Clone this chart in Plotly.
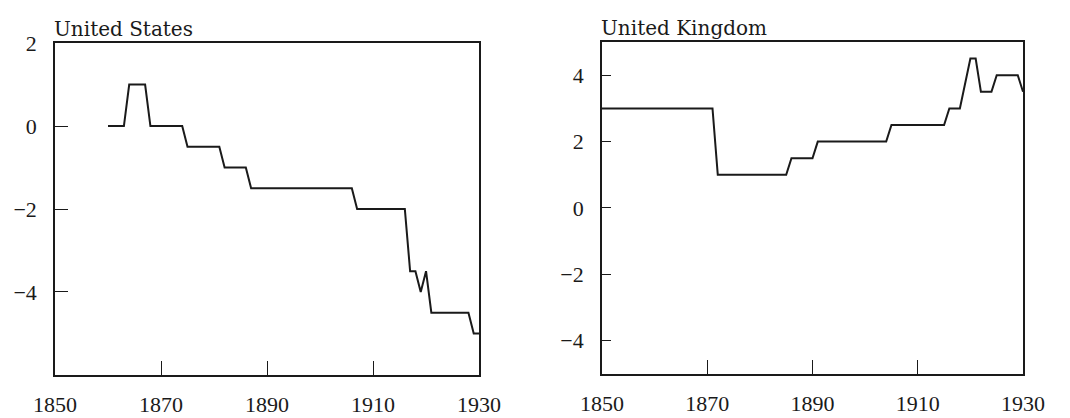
import plotly.graph_objects as go

# United States series (year, value)
us_years = [1860, 1863, 1864, 1867, 1868, 1874, 1875, 1881, 1882, 1886, 1887,
            1906, 1907, 1916, 1917, 1918, 1919, 1920, 1921, 1928, 1929, 1930]
us_values = [0, 0, 1, 1, 0, 0, -0.5, -0.5, -1, -1, -1.5,
             -1.5, -2, -2, -3.5, -3.5, -4, -3.5, -4.5, -4.5, -5, -5]

# United Kingdom series (year, value)
uk_years = [1850, 1871, 1872, 1885, 1886, 1890, 1891, 1904, 1905, 1915, 1916,
            1918, 1920, 1921, 1922, 1924, 1925, 1929, 1930]
uk_values = [3, 3, 1, 1, 1.5, 1.5, 2, 2, 2.5, 2.5, 3,
             3, 4.5, 4.5, 3.5, 3.5, 4, 4, 3.5]

x_ticks = [1850, 1870, 1890, 1910, 1930]
us_y_ticks = [-4, -2, 0, 2]
uk_y_ticks = [-4, -2, 0, 2, 4]

TICK_FONT = "Liberation Serif"
TITLE_FONT = "DejaVu Serif"
INK = "#1a1a1a"

fig = go.Figure()
fig.add_trace(go.Scatter(x=us_years, y=us_values, mode="lines",
                         line=dict(color=INK, width=2), xaxis="x", yaxis="y",
                         showlegend=False, hoverinfo="skip"))
fig.add_trace(go.Scatter(x=uk_years, y=uk_values, mode="lines",
                         line=dict(color=INK, width=2), xaxis="x2", yaxis="y2",
                         showlegend=False, hoverinfo="skip"))

axis_common = dict(
    showline=True, mirror=True, linecolor=INK, linewidth=1.6,
    showgrid=False, zeroline=False, automargin=False,
    ticks="inside", tickcolor=INK, tickwidth=1.4,
    tickfont=dict(family=TICK_FONT, size=22, color=INK),
)

fig.update_layout(
    width=1070, height=418,
    margin=dict(l=0, r=0, t=0, b=0),
    paper_bgcolor="white", plot_bgcolor="white",
    xaxis=dict(domain=[0.0514, 0.4477], range=[1850, 1930], tickvals=x_ticks,
               ticklen=14, ticklabelstandoff=9, anchor="y", **axis_common),
    yaxis=dict(domain=[0.1029, 0.8971], range=[-6, 2], tickvals=us_y_ticks,
               ticklen=13, ticklabelstandoff=12, anchor="x", **axis_common),
    xaxis2=dict(domain=[0.5626, 0.9561], range=[1850, 1930], tickvals=x_ticks,
                ticklen=14, ticklabelstandoff=9, anchor="y2", **axis_common),
    yaxis2=dict(domain=[0.1053, 0.8995], range=[-5, 5], tickvals=uk_y_ticks,
                ticklen=9, ticklabelstandoff=12, anchor="x2", **axis_common),
    annotations=[
        dict(text="United States", xref="paper", yref="paper",
             x=0.0514, y=0.898, xanchor="left", yanchor="bottom", showarrow=False,
             xshift=-3, font=dict(family=TITLE_FONT, size=20, color=INK)),
        dict(text="United Kingdom", xref="paper", yref="paper",
             x=0.5626, y=0.9, xanchor="left", yanchor="bottom", showarrow=False,
             xshift=-3, font=dict(family=TITLE_FONT, size=20, color=INK)),
    ],
)

fig.write_html("out.html")
